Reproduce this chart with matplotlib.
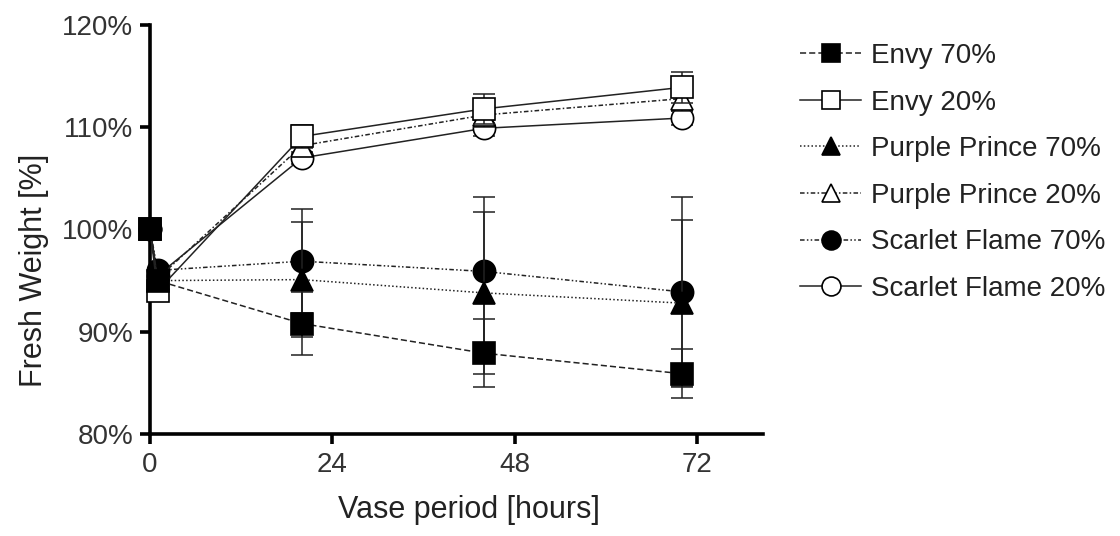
import matplotlib
matplotlib.use('Agg')
from matplotlib import pyplot as plt
from matplotlib.ticker import FuncFormatter

plt.rcParams['font.family'] = ['Liberation Sans', 'DejaVu Sans']

# data (fresh weight in %, time in hours)
hours = [0, 1, 20, 44, 70]

envy70 = [100, 95.0, 90.8, 87.9, 85.9]
envy70_err = [0, 0, 3.1, 3.3, 2.4]
envy20 = [100, 94.0, 109.1, 111.8, 113.9]
envy20_err = [0, 0, 1.1, 1.5, 1.5]
pp70 = [100, 95.0, 95.1, 93.8, 92.8]
pp70_err = [0, 0, 5.6, 7.9, 8.1]
pp20 = [100, 95.2, 108.2, 111.2, 112.8]
pp20_err = [0, 0, 0.8, 1.2, 1.2]
sf70 = [100, 96.0, 96.9, 95.9, 93.9]
sf70_err = [0, 0, 5.1, 7.3, 9.3]
sf20 = [100, 95.5, 107.0, 109.9, 110.9]
sf20_err = [0, 0, 0.6, 0.8, 0.7]

labels = ['Envy 70%', 'Envy 20%', 'Purple Prince 70%', 'Purple Prince 20%',
          'Scarlet Flame 70%', 'Scarlet Flame 20%']
xticks = [0, 24, 48, 72]
yticks = [80, 90, 100, 110, 120]

series = [
    (envy70, envy70_err, 's', 'black', (0, (4, 2))),
    (envy20, envy20_err, 's', 'white', '-'),
    (pp70, pp70_err, '^', 'black', (0, (1, 1.5))),
    (pp20, pp20_err, '^', 'white', (0, (3, 1.5, 1, 1.5))),
    (sf70, sf70_err, 'o', 'black', (0, (3, 1.5, 1, 1.5, 1, 1.5))),
    (sf20, sf20_err, 'o', 'white', '-'),
]

fig = plt.figure(figsize=(11.2, 5.36), dpi=100)
ax = fig.add_axes([150 / 1120, 1 - 434 / 536, 613 / 1120, 409 / 536])

handles = {}
# draw Envy 70% last so its square sits on top at time 0
order = [5, 4, 3, 2, 1, 0]
for z, i in enumerate(order):
    vals, err, mk, face, ls = series[i]
    # error bars only where there is a spread (not at 0 h / 1 h)
    ax.errorbar(hours[2:], vals[2:], yerr=err[2:], fmt='none', ecolor='#222222',
                elinewidth=1.1, capsize=8, capthick=1.1, zorder=2 + 2 * z)
    ln, = ax.plot(hours, vals, marker=mk, markersize=16,
                  markerfacecolor=face, markeredgecolor='black', markeredgewidth=1.2,
                  color='#222222', linewidth=1.1, linestyle=ls, zorder=3 + 2 * z,
                  clip_on=False)
    handles[i] = ln

ax.set_xlim(0, 80.7)
ax.set_ylim(80, 120)
ax.set_xticks(xticks)
ax.set_yticks(yticks)
ax.yaxis.set_major_formatter(FuncFormatter(lambda v, p: '%d%%' % v))

for side in ['top', 'right']:
    ax.spines[side].set_visible(False)
for side in ['left', 'bottom']:
    ax.spines[side].set_linewidth(2.6)
    ax.spines[side].set_zorder(1)
ax.tick_params(width=2.6, length=7, labelsize=20, colors='black', labelcolor='#333333')
ax.tick_params(axis='y', pad=5)
ax.tick_params(axis='x', pad=6)

ax.set_xlabel('Vase period [hours]', fontsize=22, color='#222222')
ax.set_ylabel('Fresh Weight [%]', fontsize=22, color='#222222')
ax.yaxis.set_label_coords(-0.165, 0.40)
ax.xaxis.set_label_coords(0.52, -0.15)

fig.legend([handles[i] for i in range(6)], labels, loc='upper left',
           bbox_to_anchor=(800 / 1120, 1 - 43 / 536), frameon=False,
           fontsize=20, handlelength=2.2, handletextpad=0.35, labelspacing=0.74,
           borderpad=0, borderaxespad=0, markerscale=0.85, labelcolor='#222222')

plt.savefig('out.png', dpi=100)
